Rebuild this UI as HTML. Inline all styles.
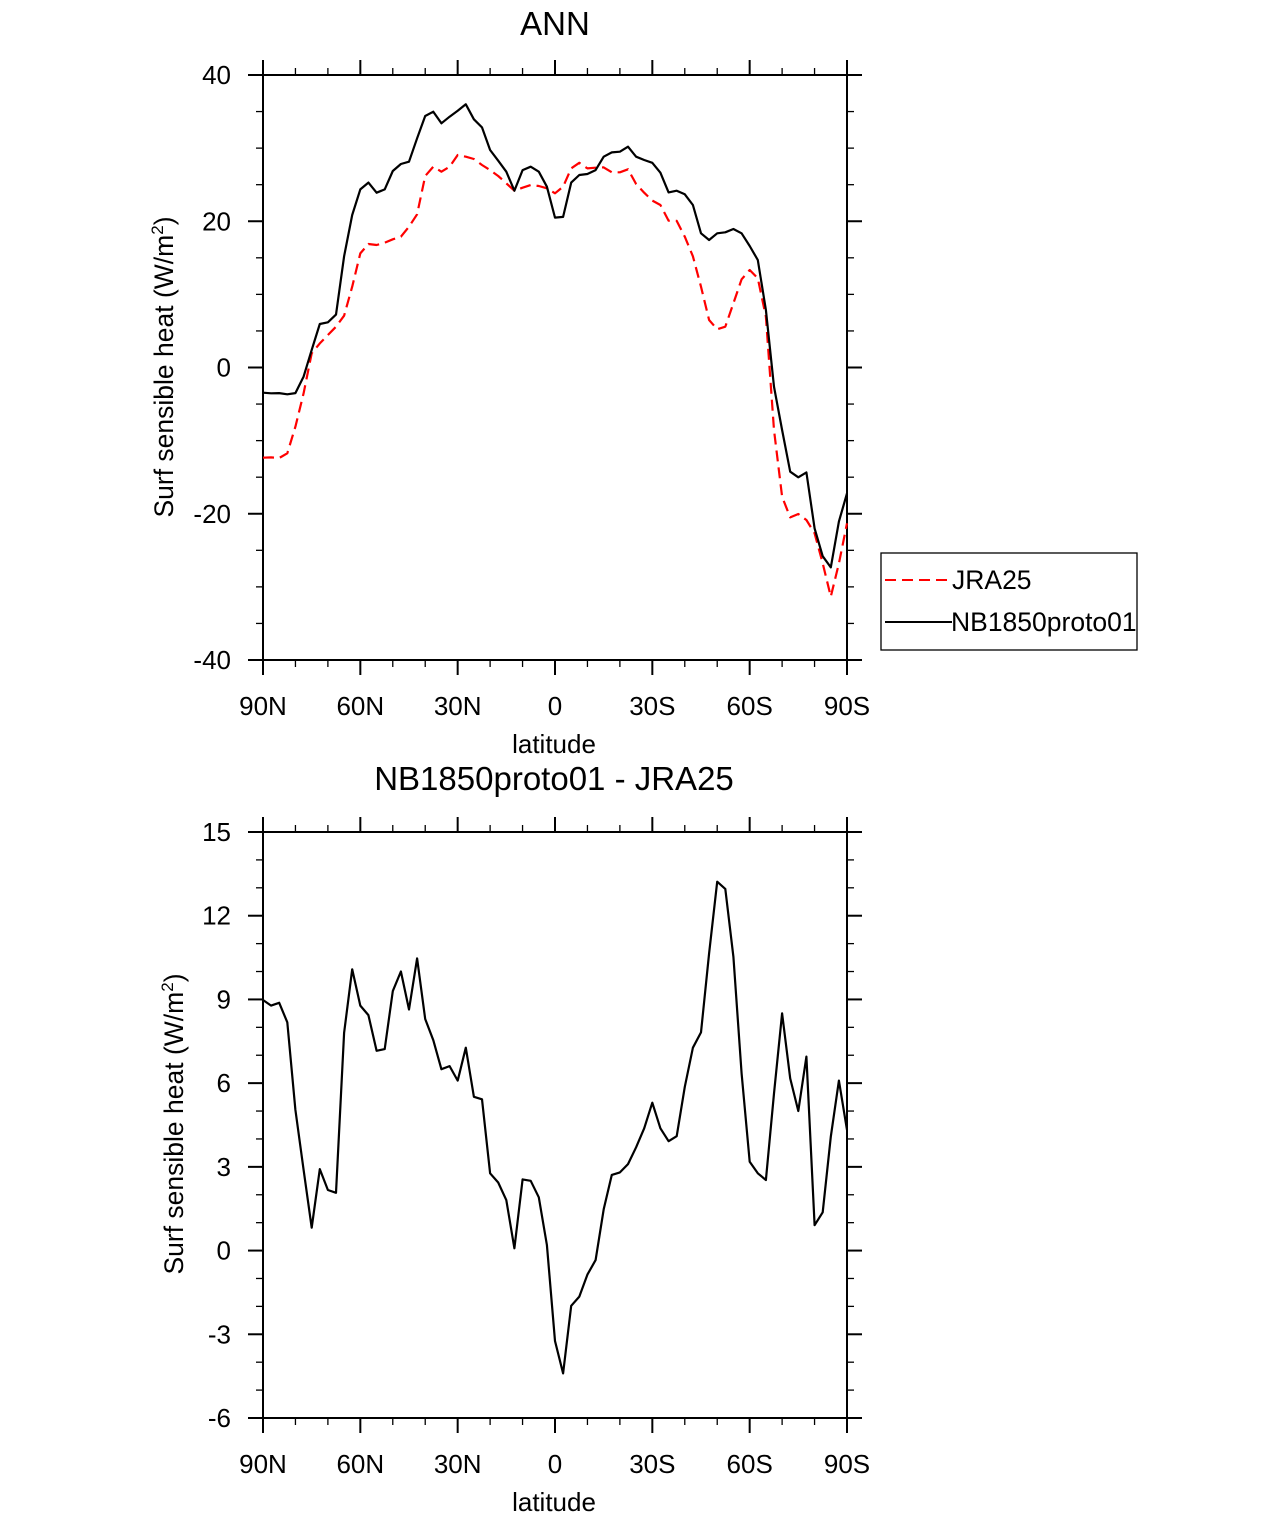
<!DOCTYPE html>
<html><head><meta charset="utf-8"><style>
body{margin:0;background:#fff}
svg{display:block;font-family:"Liberation Sans",Arial,sans-serif}
</style></head><body>
<svg id="s" width="1285" height="1517" xmlns="http://www.w3.org/2000/svg">
<text x="555" y="35" font-size="33" text-anchor="middle">ANN</text>
<text x="554" y="790" font-size="33" text-anchor="middle">NB1850proto01 - JRA25</text>
<g>
<rect x="881" y="553" width="256" height="97" fill="#fff" stroke="#000" stroke-width="1.3"/>
<line x1="885" y1="580" x2="952" y2="580" stroke="#f00" stroke-width="2" stroke-dasharray="11,6"/>
<text x="952" y="589" font-size="26.5">JRA25</text>
<line x1="885" y1="622" x2="952" y2="622" stroke="#000" stroke-width="2"/>
<text x="951" y="631" font-size="26.5">NB1850proto01</text>
</g>
</svg>
<script>
const lats = [];
for (let i = 0; i <= 72; i++) lats.push(90 - 2.5 * i);
const xTickLabels = ['90N','60N','30N','0','30S','60S','90S'];
const xTickLats = [90,60,30,0,-30,-60,-90];
const modelValues = [-3.44,-3.53,-3.5,-3.67,-3.5,-1.25,2.4,5.95,6.18,7.23,15.2,20.85,24.36,25.28,23.9,24.36,26.87,27.83,28.15,31.34,34.39,34.98,33.39,34.3,35.12,35.99,33.94,32.84,29.74,28.28,26.78,24.18,27.0,27.46,26.78,24.73,20.5,20.6,25.28,26.32,26.46,27.0,28.83,29.42,29.51,30.2,28.83,28.38,28.0,26.64,23.95,24.18,23.68,22.22,18.35,17.44,18.35,18.49,18.94,18.35,16.62,14.7,7.86,-2.62,-8.55,-14.25,-15.02,-14.34,-22.0,-25.8,-27.33,-21.08,-17.2];
const jraValues = [-12.33,-12.3,-12.37,-11.74,-8.09,-3.53,1.94,3.3,4.44,5.58,7.08,11.05,15.6,16.89,16.75,17.07,17.53,17.89,19.26,20.95,26.19,27.46,26.78,27.46,29.06,28.83,28.51,27.69,27.0,26.19,25.19,24.18,24.59,24.96,24.82,24.5,23.82,24.73,27.23,28.0,27.23,27.32,27.37,26.69,26.69,27.1,25.1,23.9,22.82,22.22,20.08,20.05,17.89,15.2,11.05,6.5,5.22,5.58,8.78,12.06,13.33,12.2,6.95,-8.55,-17.67,-20.5,-20.03,-20.85,-22.67,-26.77,-31.33,-26.8,-21.3];
const diffValues = [8.98,8.78,8.88,8.18,5.04,2.89,0.82,2.92,2.17,2.07,7.8,10.08,8.78,8.44,7.16,7.22,9.3,10.0,8.64,10.47,8.3,7.54,6.5,6.61,6.09,7.27,5.51,5.42,2.77,2.44,1.81,0.08,2.55,2.5,1.91,0.2,-3.24,-4.4,-1.98,-1.65,-0.86,-0.34,1.48,2.71,2.8,3.1,3.7,4.38,5.3,4.38,3.92,4.1,5.87,7.27,7.82,10.65,13.22,12.96,10.53,6.35,3.18,2.77,2.53,5.63,8.5,6.17,5.0,6.95,0.91,1.37,4.08,6.09,4.32];
const topYTicks = [40,20,0,-20,-40];
const botYTicks = [15,12,9,6,3,0,-3,-6];

const svg = document.getElementById('s');
const NS = 'http://www.w3.org/2000/svg';
function mk(tag, attrs, parent) {
  const e = document.createElementNS(NS, tag);
  for (const k in attrs) e.setAttribute(k, attrs[k]);
  (parent || svg).appendChild(e);
  return e;
}
const L = 263, R = 847;
function xs(lat) { return L + (90 - lat) / 180 * (R - L); }

function panel(name, top, bottom, ymin, ymax, yTicks, minorStep, series) {
  const g = mk('g', {});
  
  
  const ys = v => bottom - (v - ymin) / (ymax - ymin) * (bottom - top);
  const frame = mk('rect', {x: L, y: top, width: R - L, height: bottom - top, fill: 'none', stroke: '#000', 'stroke-width': 2}, g);
  
  
  for (let lat = 90; lat >= -90; lat -= 10) {
    const major = lat % 30 === 0;
    const len = major ? 15 : 7;
    const x = xs(lat);
    const t1 = mk('line', {x1: x, x2: x, y1: bottom, y2: bottom + len, stroke: '#000', 'stroke-width': major ? 2 : 1.3}, g);
    
    
    const t2 = mk('line', {x1: x, x2: x, y1: top, y2: top - len, stroke: '#000', 'stroke-width': major ? 2 : 1.3}, g);
    
    
  }
  xTickLabels.forEach((lb, i) => {
    const t = mk('text', {x: xs(xTickLats[i]), y: bottom + 55, 'font-size': 26, 'text-anchor': 'middle'}, g);
    t.textContent = lb;
    
    
  });
  for (let v = ymin; v <= ymax + 1e-9; v += minorStep) {
    const major = yTicks.some(t => Math.abs(t - v) < 1e-6);
    const len = major ? 15 : 7;
    const y = ys(v);
    const a = mk('line', {x1: L, x2: L - len, y1: y, y2: y, stroke: '#000', 'stroke-width': major ? 2 : 1.3}, g);
    
    
    const b = mk('line', {x1: R, x2: R + len, y1: y, y2: y, stroke: '#000', 'stroke-width': major ? 2 : 1.3}, g);
    
    
  }
  yTicks.forEach(v => {
    const t = mk('text', {x: L - 32, y: ys(v) + 9, 'font-size': 26, 'text-anchor': 'end'}, g);
    t.textContent = String(v);
    
    
  });
  const xl = mk('text', {x: 554, y: bottom + 93, 'font-size': 26, 'text-anchor': 'middle'}, g);
  xl.textContent = 'latitude';
  
  
  series.forEach(s => {
    const d = s.vals.map((v, i) => (i ? 'L' : 'M') + xs(lats[i]).toFixed(1) + ',' + ys(v).toFixed(1)).join(' ');
    const p = mk('path', {d: d, fill: 'none', stroke: s.color, 'stroke-width': 2.2, 'stroke-dasharray': s.dash || 'none', 'stroke-linejoin': 'round'}, g);
    
    
  });
  return ys;
}
panel('top-panel', 75, 660, -40, 40, topYTicks, 5, [
  {vals: jraValues, color: '#f00', dash: '11,6', name: 'jra25-line'},
  {vals: modelValues, color: '#000', name: 'model-line'}
]);
panel('bottom-panel', 832, 1418, -6, 15, botYTicks, 1, [
  {vals: diffValues, color: '#000', name: 'difference-line'}
]);
function ytitle(cx, cy, name) {
  const t = mk('text', {x: 0, y: 0, 'font-size': 26.5, 'text-anchor': 'middle', transform: 'translate(' + cx + ',' + cy + ') rotate(-90)'});
  
  
  t.innerHTML = 'Surf sensible heat (W/m<tspan dy="-10" font-size="17">2</tspan><tspan dy="10">)</tspan>';
}
ytitle(173, 367, 'top-y-axis-title');
ytitle(183, 1124, 'bottom-y-axis-title');
</script>
</body></html>
